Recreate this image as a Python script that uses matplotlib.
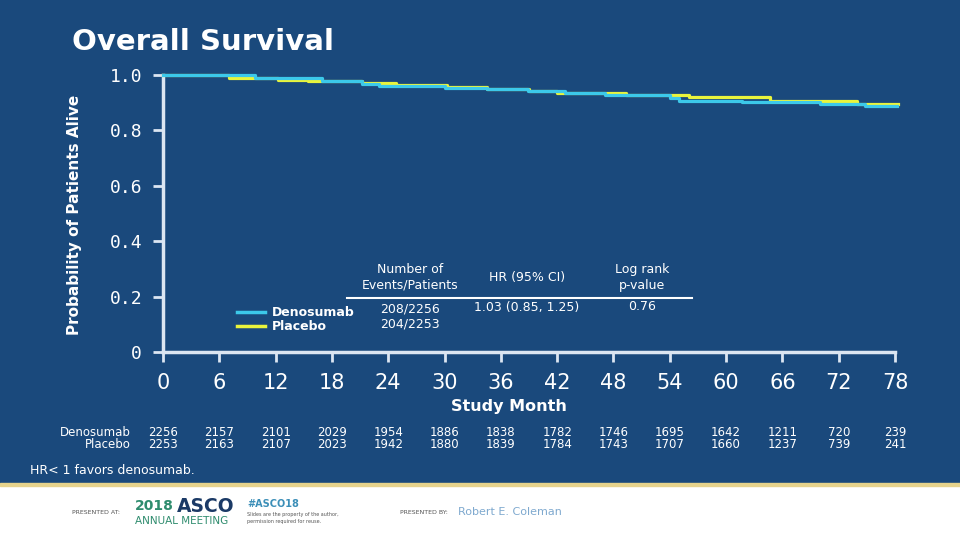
import matplotlib
matplotlib.use("Agg")
import matplotlib.pyplot as plt
from matplotlib.transforms import blended_transform_factory
from matplotlib.patches import Rectangle
from matplotlib.lines import Line2D

# Kaplan-Meier steps (month, survival)
deno_months = [0, 9.8, 16.9, 21.2, 23.0, 30.0, 34.5, 38.9, 42.8, 47.1, 54.0, 55.0, 61.7, 70.0, 74.8, 78.2]
deno_surv = [1.000, 0.990, 0.978, 0.969, 0.960, 0.954, 0.948, 0.941, 0.934, 0.928, 0.916, 0.907, 0.901, 0.896, 0.887, 0.887]
plac_months = [0, 7.0, 12.3, 15.5, 21.2, 24.8, 30.3, 34.5, 39.0, 42.0, 49.3, 56.0, 64.7, 74.0, 78.3]
plac_surv = [1.000, 0.990, 0.983, 0.978, 0.972, 0.964, 0.957, 0.950, 0.941, 0.934, 0.928, 0.919, 0.905, 0.896, 0.896]

tick_months = [0, 6, 12, 18, 24, 30, 36, 42, 48, 54, 60, 66, 72, 78]
y_ticks = [0, 0.2, 0.4, 0.6, 0.8, 1.0]
y_ticklabels = ["0", "0.2", "0.4", "0.6", "0.8", "1.0"]
risk_deno = [2256, 2157, 2101, 2029, 1954, 1886, 1838, 1782, 1746, 1695, 1642, 1211, 720, 239]
risk_plac = [2253, 2163, 2107, 2023, 1942, 1880, 1839, 1784, 1743, 1707, 1660, 1237, 739, 241]

bg = "#1a497c"
axis_col = "#dce6f2"
cyan = "#3cc9ea"
yellow = "#e9f43c"
W, H = 960, 540

fig = plt.figure(figsize=(9.6, 5.4), dpi=100, facecolor=bg)

# footer band
fig.patches.append(Rectangle((0, 0), 1, 1 - 486 / H, transform=fig.transFigure, color="white", zorder=0))
fig.patches.append(Rectangle((0, 1 - 486 / H), 1, 3 / H, transform=fig.transFigure, color="#e6d38c", zorder=0))

ax = fig.add_axes([163 / W, 1 - 352 / H, (895 - 163) / W, (352 - 75) / H])
ax.set_facecolor(bg)
ax.set_xlim(0, 78)
ax.set_ylim(0, 1)

ax.step(plac_months, plac_surv, where="post", color=yellow, lw=2.3, clip_on=False, zorder=3)
ax.step(deno_months, deno_surv, where="post", color=cyan, lw=2.3, clip_on=False, zorder=4)

for s in ["top", "right"]:
    ax.spines[s].set_visible(False)
for s in ["left", "bottom"]:
    ax.spines[s].set_color(axis_col)
    ax.spines[s].set_linewidth(2.5)

ax.set_xticks(tick_months)
ax.set_xticklabels([str(m) for m in tick_months], fontsize=15, color="white")
ax.set_yticks(y_ticks)
ax.set_yticklabels(y_ticklabels, family="DejaVu Sans Mono", fontsize=13, color="white")
ax.tick_params(axis="x", length=7, width=2, color=axis_col, pad=8)
ax.tick_params(axis="y", length=7, width=2, color=axis_col, pad=8)

fig.text(72 / W, 1 - 42 / H, "Overall Survival", fontsize=21, fontweight="bold", color="white",
         va="center", ha="left")
fig.text(75 / W, 1 - 215 / H, "Probability of Patients Alive", fontsize=11, fontweight="bold",
         color="white", rotation=90, va="center", ha="center")
fig.text(509 / W, 1 - 407 / H, "Study Month", fontsize=11.5, fontweight="bold", color="white",
         va="center", ha="center")

# numbers at risk
tr = blended_transform_factory(ax.transData, fig.transFigure)
fig.text(131 / W, 1 - 432 / H, "Denosumab", fontsize=8.5, color="white", ha="right", va="center")
fig.text(131 / W, 1 - 445 / H, "Placebo", fontsize=8.5, color="white", ha="right", va="center")
for m, d, p in zip(tick_months, risk_deno, risk_plac):
    ax.text(m, 1 - 432 / H, str(d), transform=tr, fontsize=8.5, color="white",
            ha="center", va="center")
    ax.text(m, 1 - 445 / H, str(p), transform=tr, fontsize=8.5, color="white",
            ha="center", va="center")

fig.text(30 / W, 1 - 470 / H, "HR< 1 favors denosumab.", fontsize=9, color="white", va="center")

# legend / summary table
fig.add_artist(Line2D([237 / W, 265 / W], [1 - 312 / H] * 2, color=cyan, lw=2.5))
fig.add_artist(Line2D([237 / W, 265 / W], [1 - 326 / H] * 2, color=yellow, lw=2.5))
fig.text(272 / W, 1 - 312 / H, "Denosumab", fontsize=9, fontweight="bold", color="white", va="center")
fig.text(272 / W, 1 - 326 / H, "Placebo", fontsize=9, fontweight="bold", color="white", va="center")
fig.add_artist(Line2D([347 / W, 692 / W], [1 - 298 / H] * 2, color="white", lw=1.5))
hdr = dict(fontsize=9, color="white", ha="center", va="center", linespacing=1.3)
fig.text(410 / W, 1 - 277.5 / H, "Number of\nEvents/Patients", **hdr)
fig.text(527 / W, 1 - 278 / H, "HR (95% CI)", **hdr)
fig.text(642 / W, 1 - 277.5 / H, "Log rank\np-value", **hdr)
fig.text(410 / W, 1 - 309 / H, "208/2256", **hdr)
fig.text(410 / W, 1 - 324 / H, "204/2253", **hdr)
fig.text(527 / W, 1 - 308 / H, "1.03 (0.85, 1.25)", **hdr)
fig.text(642 / W, 1 - 307 / H, "0.76", **hdr)

# footer
fig.text(72 / W, 1 - 512 / H, "PRESENTED AT:", fontsize=4.5, color="#555555", va="center")
fig.text(135 / W, 1 - 506 / H, "2018", fontsize=10, fontweight="bold", color="#2f8c6e", va="center")
fig.text(177 / W, 1 - 506 / H, "ASCO", fontsize=13.5, fontweight="bold", color="#1b3a66", va="center")
fig.text(135 / W, 1 - 521 / H, "ANNUAL MEETING", fontsize=7.5, color="#2f8c6e", va="center")
fig.text(247 / W, 1 - 504 / H, "#ASCO18", fontsize=7, fontweight="bold", color="#3c8fb8", va="center")
fig.text(247 / W, 1 - 518 / H, "Slides are the property of the author,\npermission required for reuse.",
         fontsize=3.5, color="#555555", va="center", linespacing=1.4)
fig.text(400 / W, 1 - 512 / H, "PRESENTED BY:", fontsize=4.5, color="#555555", va="center")
fig.text(458 / W, 1 - 512 / H, "Robert E. Coleman", fontsize=8, color="#7fa9cf", va="center")

fig.savefig("out.png", dpi=100, facecolor=bg)
